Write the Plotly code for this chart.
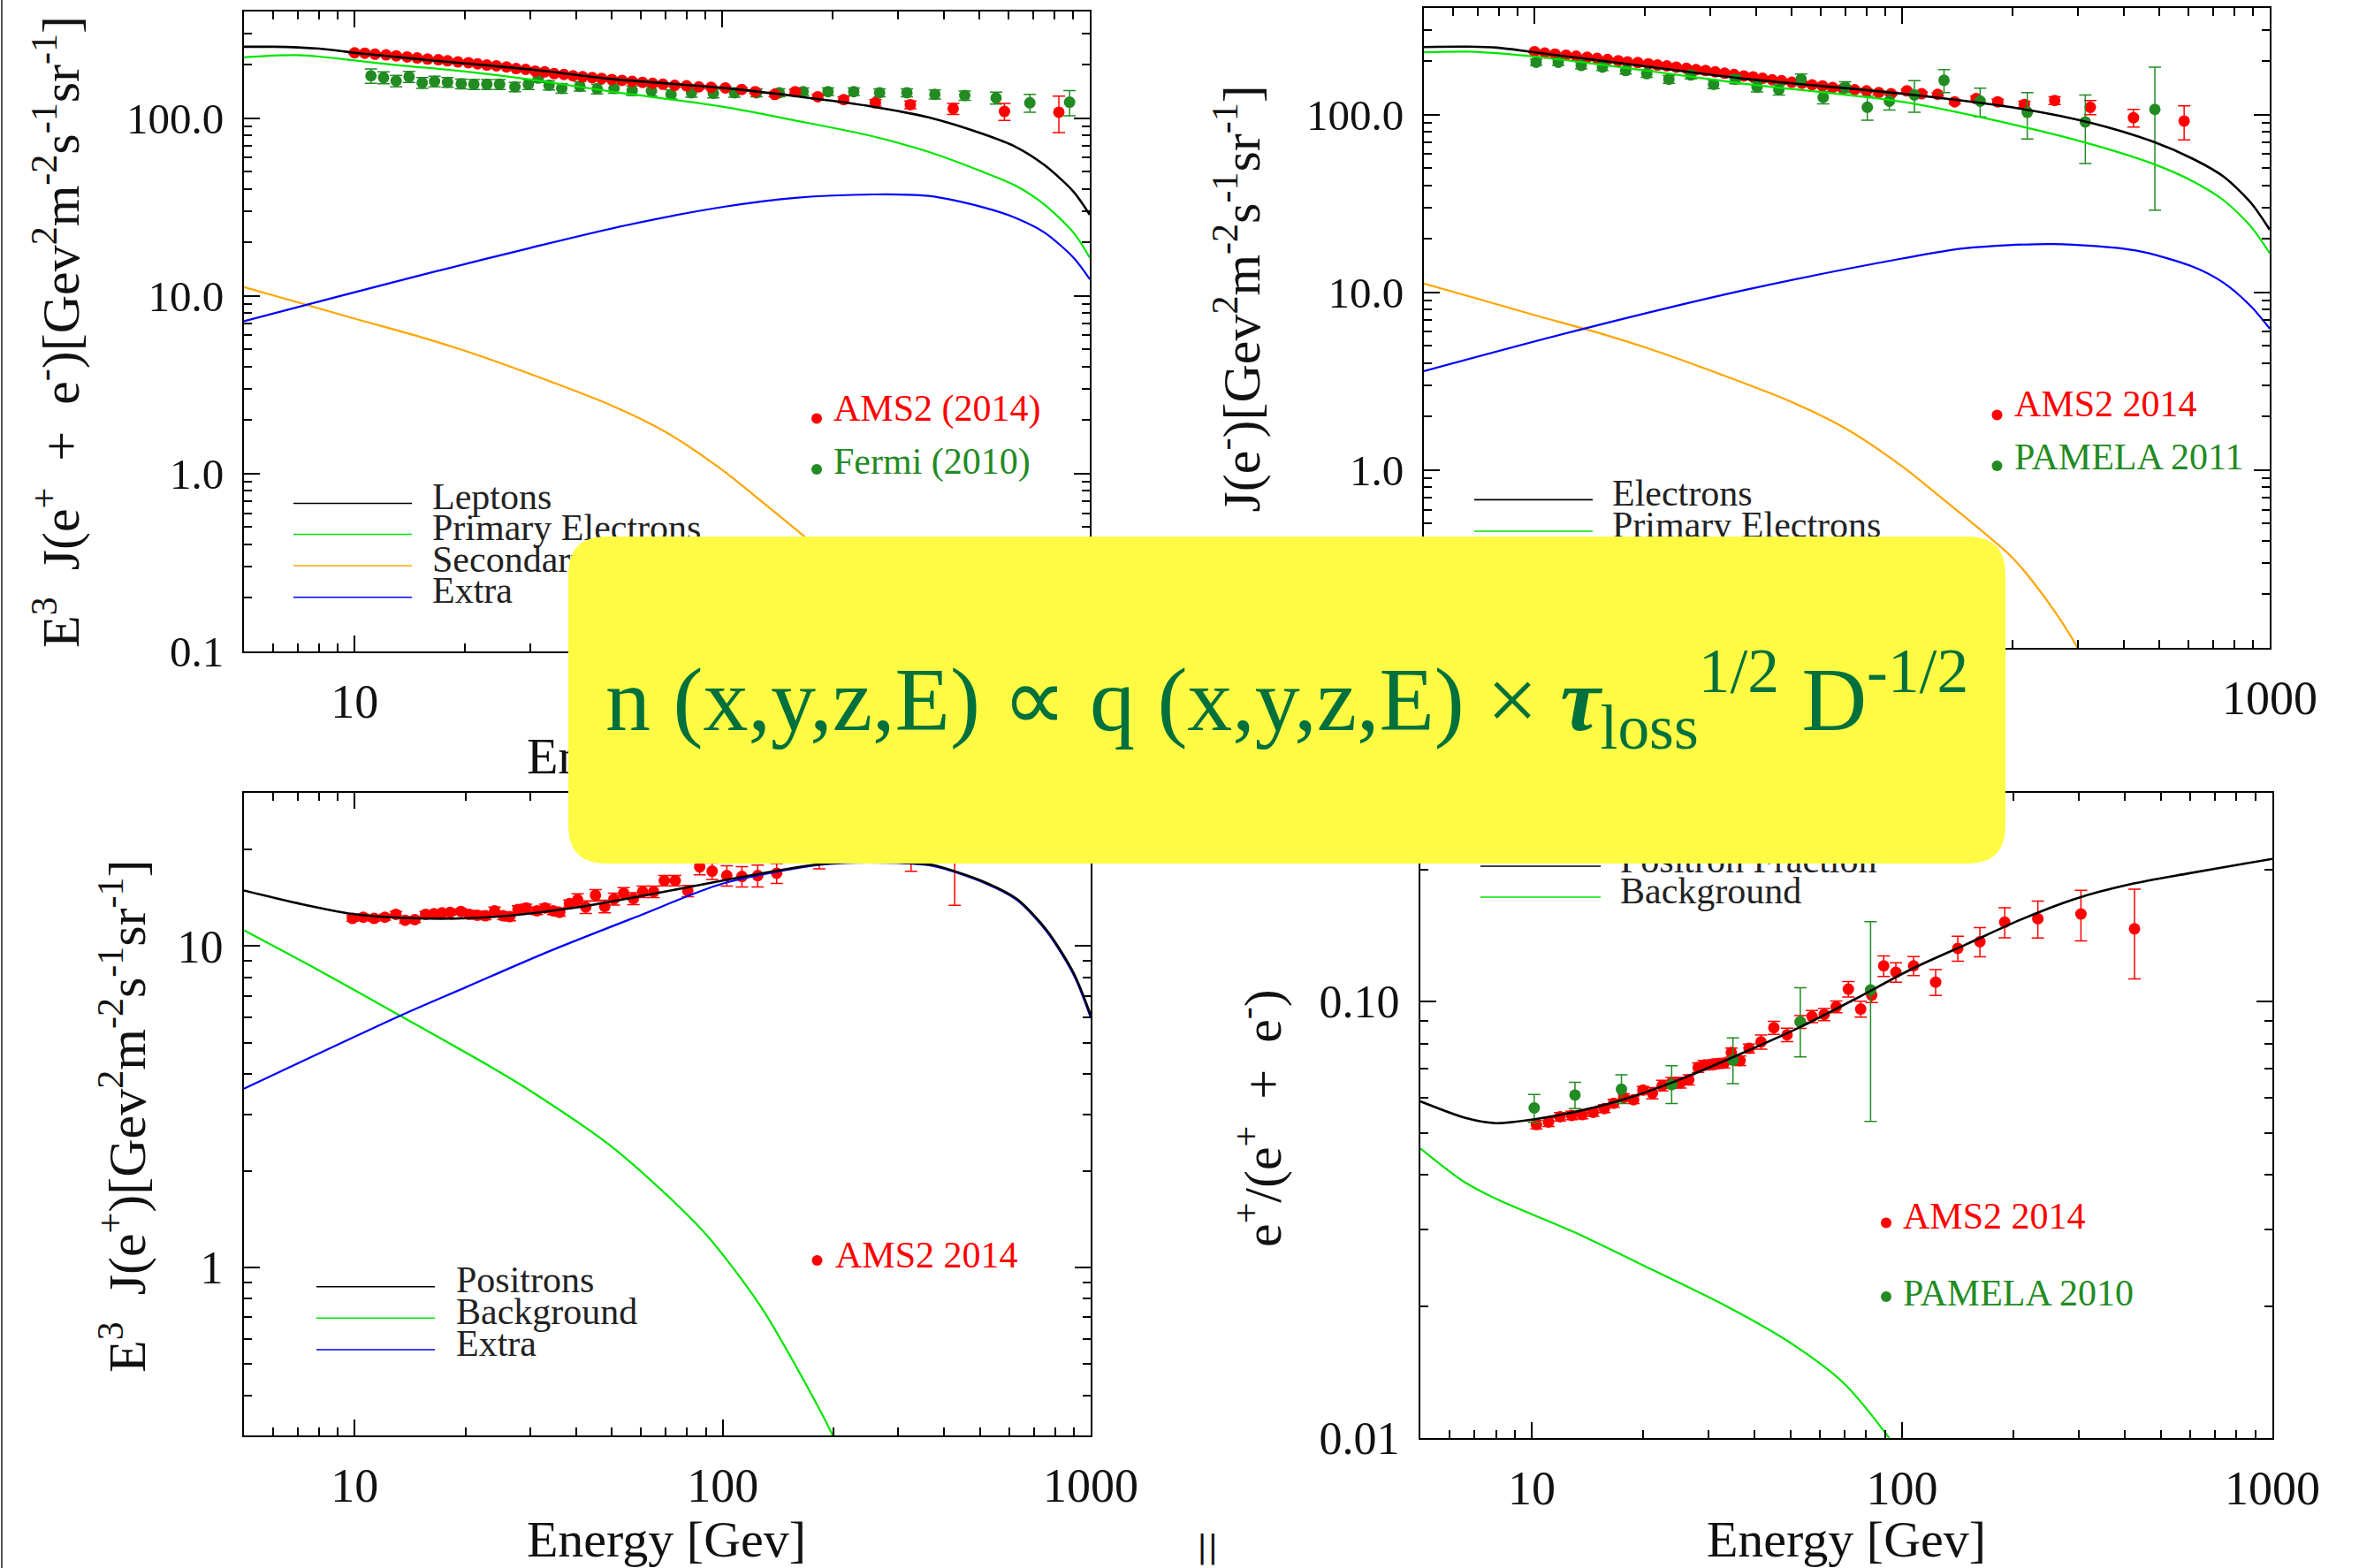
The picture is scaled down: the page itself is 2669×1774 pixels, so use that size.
import numpy as np
import plotly.graph_objects as go

W, H = 2669, 1774
SERIF = "Liberation Serif"

# ---------------- Panel A : E^3 J(e+ + e-) ----------------
a_lep_E = [5, 6, 7, 8, 9, 10, 13, 16.3, 20, 30, 50, 100, 158, 257, 364, 516, 628, 753, 903, 1000]
a_lep_v = [252, 252, 250, 246, 240, 233, 221, 211, 203, 188, 166, 148, 133, 116, 101, 81, 69, 54.4, 38.6, 28.6]
a_pri_E = [5, 6, 7, 8, 10, 13, 20, 30, 50, 100, 158, 257, 364, 516, 628, 753, 903, 1000]
a_pri_v = [220, 225, 226, 222, 211, 199, 183, 165, 141, 116, 97, 79, 64.6, 49.5, 41.7, 32.6, 22.7, 16.4]
sec_E = [5, 7, 10, 15, 20, 30, 50, 70, 100, 130, 168, 200, 250, 300, 350]
sec_v = [11.2, 9.2, 7.45, 5.9, 4.9, 3.64, 2.42, 1.72, 1.05, 0.68, 0.44, 0.32, 0.18, 0.1, 0.05]
a_ext_E = [5, 8.9, 16.3, 30, 55, 100, 158, 257, 364, 516, 628, 753, 903, 1000]
a_ext_v = [7.2, 9.84, 13.6, 18.6, 25, 31.6, 35.6, 37.2, 36.5, 31.4, 27.5, 22.7, 16.4, 12.4]

a_ams_E = [10.0, 10.66, 11.37, 12.18, 12.98, 13.9, 14.8, 15.8, 16.9, 17.9, 19.1, 20.4, 21.6, 22.9, 24.3,
           25.9, 27.5, 29.2, 31.0, 32.9, 34.9, 37.1, 39.3, 41.7, 44.3, 47.0, 50.1, 53.4, 56.9, 60.7,
           64.7, 69.0, 74.3, 80.0, 86.4, 93.3, 102, 113, 123, 139, 158, 182, 214, 261, 325, 425, 586, 824]
a_ams_v = [233, 232, 229, 227, 224, 221, 218, 215, 213, 210, 207, 205, 202, 199, 197,
           194, 190, 188, 184, 182, 178, 176, 173, 171, 169, 167, 165, 163, 161, 159,
           157, 155, 153, 152, 150, 149, 148, 145, 141, 136, 141, 132, 127, 122, 119, 113, 109, 108]
a_ams_err = [4, 4, 4, 4, 4, 4, 4, 4, 4, 4, 4, 4, 4, 4, 4, 4, 4, 4, 4, 4, 4, 4, 4, 3, 3,
             3, 3, 3, 3, 3, 3, 3, 3, 3, 3, 3, 3, 3, 3, 4, 4, 4, 5, 5, 6, 8, 12, 25]
a_fermi_E = [11.08, 11.99, 12.97, 14.07, 15.27, 16.5, 17.9, 19.5, 21.1, 22.9, 24.8, 27.3, 29.7, 31.6, 33.8,
             36.6, 41.0, 45.7, 50.8, 56.9, 64.2, 72.6, 82.5, 94.6, 108, 124, 143, 166, 194, 228,
             268, 318, 379, 457, 556, 687, 881]
a_fermi_v = [173, 169, 162, 171, 158, 161, 159, 156, 155, 155, 155, 150, 155, 168, 153,
             147, 151, 146, 147, 143, 142, 136, 139, 138, 139, 139, 139, 141, 141, 141,
             139, 139, 136, 134, 130, 122, 123]
a_fermi_err = [16, 13, 12, 12, 11, 11, 10, 10, 10, 10, 10, 9, 10, 9, 9, 9, 9, 9, 9, 9, 9, 8, 8, 8, 8,
               7, 7, 7, 7, 7, 7, 7, 8, 8, 10, 14, 20]

# ---------------- Panel B : E^3 J(e-) ----------------
b_ele_E = [5, 6.6, 7.9, 10, 20, 37.3, 100, 210, 328, 480, 620, 750, 891, 1000]
b_ele_v = [240, 241, 238, 224, 187, 159, 131, 108, 89.6, 70.6, 56.2, 44.7, 31.7, 22.5]
b_pri_E = [5, 6.6, 10, 20, 37.3, 100, 210, 328, 480, 620, 750, 891, 1000]
b_pri_v = [224, 226, 212, 177, 149, 118, 86, 68, 53, 42, 32.9, 23.3, 16.6]
b_ext_E = [5, 13.2, 37.3, 100, 148, 258, 432, 620, 750, 891, 1000]
b_ext_v = [3.6, 6.14, 10.3, 15.5, 17.7, 18.7, 17.2, 13.9, 11.3, 8.3, 6.25]

b_ams_E = [10.0, 10.66, 11.37, 12.18, 12.98, 13.9, 14.8, 15.8, 16.9, 17.9, 19.1, 20.4, 21.6, 22.9, 24.3,
           25.9, 27.5, 29.2, 31.0, 32.9, 34.9, 37.1, 39.3, 41.7, 44.3, 47.0, 50.1, 53.4, 56.9, 60.7,
           64.7, 69.0, 74.3, 80.0, 86.4, 93.3, 103, 113, 125, 139, 159, 182, 215, 260, 325, 426, 585]
b_ams_v = [226, 222, 219, 216, 213, 210, 207, 204, 201, 198, 196, 193, 190, 188, 185,
           182, 179, 177, 174, 171, 168, 165, 163, 160, 157, 155, 152, 150, 147, 145,
           142, 140, 138, 136, 133, 131, 136, 131, 130, 118, 123, 118, 114, 120, 110, 96, 92]
b_ams_err = [3, 3, 3, 3, 3, 3, 3, 3, 3, 3, 3, 3, 3, 3, 3, 3, 3, 3, 3, 3, 3, 3, 3, 3, 3,
             3, 3, 3, 3, 3, 3, 3, 3, 3, 3, 3, 3, 3, 3, 3, 4, 4, 5, 6, 10, 11, 20]
b_pam_E = [10.1, 11.6, 13.4, 15.3, 17.7, 20.2, 23.2, 26.6, 30.7, 35.2, 40.3, 46.2, 53.1, 61.0, 70.0,
           80.4, 92.3, 108, 130, 163, 219, 315, 487]
b_pam_v = [197, 197, 189, 185, 177, 170, 158, 167, 148, 158, 143, 138, 158, 125, 143,
           110, 119, 129, 156, 119, 103, 91, 107]
b_pam_err = [8, 8, 8, 8, 8, 8, 8, 8, 8, 9, 9, 9, 11, 10, 10, 17, 13, 26, 23, 22, 30, 38, 78]

# ---------------- Panel C : E^3 J(e+) ----------------
c_pos_E = [5, 7, 9.85, 14.8, 23.1, 38.4, 63.8, 106, 177, 250, 370, 427, 523, 631, 760, 901, 1000]
c_pos_v = [14.9, 13.6, 12.6, 12.2, 12.3, 13.1, 14.5, 16.2, 17.9, 18.3, 17.9, 17.1, 15.7, 14.0, 11.2, 8.2, 6.1]
c_bkg_E = [5, 8, 13.2, 23.1, 29.4, 50.3, 88.3, 127, 167, 199, 230]
c_bkg_v = [11.2, 8.4, 6.1, 4.25, 3.6, 2.36, 1.30, 0.755, 0.44, 0.30, 0.2]
c_ext_E = [5, 13.4, 20, 33.5, 60, 99, 183, 250, 370, 523, 631, 760, 901, 1000]
c_ext_v = [3.6, 6.1, 7.44, 9.6, 12.5, 15.6, 17.9, 18.2, 17.8, 15.6, 13.9, 11.1, 8.1, 6.0]
c_ams_E = [9.86, 10.55, 11.29, 12.08, 12.94, 13.71, 14.57, 15.59, 16.41, 17.26, 18.16, 19.44, 20.46, 21.52, 22.65,
           24.0, 25.33, 26.39, 27.77, 29.22, 31.27, 32.9, 34.62, 36.06, 38.33, 40.34, 42.45, 45.11, 47.8, 50.64,
           53.83, 57.2, 60.6, 64.9, 69.4, 74.3, 80.4, 86.6, 93.6, 102.6, 112.8, 124.5, 140.2, 183, 325, 427]
c_ams_v = [12.2, 12.3, 12.2, 12.3, 12.56, 12.04, 12.09, 12.56, 12.61, 12.69, 12.74, 12.82, 12.56, 12.48, 12.43,
           12.88, 12.43, 12.35, 13.01, 13.15, 12.88, 13.15, 12.88, 12.74, 13.57, 13.95, 13.23, 14.4, 13.29, 14.01,
           14.61, 14.07, 14.77, 14.77, 16.0, 16.0, 14.86, 17.66, 17.12, 16.58, 16.48, 16.58, 16.87, 19.2, 20.5, 19.0]
c_ams_err = [0.25] * 12 + [0.35] * 13 + [0.6] * 12 + [1.0, 1.0, 1.2, 1.2, 1.3, 1.2, 1.8, 3.4, 5.6]

# ---------------- Panel D : positron fraction ----------------
d_frac_E = [5, 6.65, 7.98, 10.2, 13.45, 18.95, 26.7, 37.7, 53.1, 74.9, 105.6, 149, 210, 296, 417, 589, 830, 1000]
d_frac_v = [0.059, 0.054, 0.0526, 0.0537, 0.0561, 0.0607, 0.0676, 0.0766, 0.0873, 0.1013, 0.1183, 0.135,
            0.154, 0.172, 0.1856, 0.196, 0.2062, 0.2118]
d_bkg_E = [5, 6.5, 8, 12.9, 20.9, 33.7, 49.5, 69.3, 92.3, 110]
d_bkg_v = [0.046, 0.0388, 0.0353, 0.0297, 0.0244, 0.0200, 0.0166, 0.0134, 0.0100, 0.0080]
d_ams_E = [10.29, 11.09, 11.92, 12.81, 13.68, 14.65, 15.7, 16.64, 17.7, 18.83, 19.96, 21.16, 22.5, 23.86, 25.2,
           26.54, 28.13, 29.12, 30.34, 31.73, 33.06, 34.57, 36.52, 38.6, 41.6, 45.05, 48.9, 53.1, 57.1, 61.6,
           66.4, 71.6, 77.3, 82.8, 89.2, 96.2, 107.4, 123.2, 141.4, 162.2, 189.3, 232.6, 304.1, 424.3]
d_ams_v = [0.0522, 0.0529, 0.0544, 0.0548, 0.055, 0.0557, 0.0568, 0.0584, 0.0602, 0.0595, 0.0626, 0.0616,
           0.0641, 0.0651, 0.0651, 0.0661, 0.0705, 0.0714, 0.0716, 0.072, 0.0722, 0.0763, 0.0731, 0.078,
           0.0807, 0.087, 0.0838, 0.0897, 0.0923, 0.0933, 0.0971, 0.1066, 0.096, 0.1033, 0.1205, 0.1165,
           0.1205, 0.1106, 0.1322, 0.1369, 0.1517, 0.1545, 0.1584, 0.1465]
d_ams_err = [0.0012] * 11 + [0.0018] * 13 + [0.003, 0.003, 0.003, 0.003, 0.003, 0.003, 0.003, 0.0043, 0.004, 0.004,
                                             0.0065, 0.006, 0.006, 0.0075, 0.0087, 0.0105, 0.012, 0.015, 0.021, 0.034]
d_pam_E = [10.15, 13.08, 17.46, 23.86, 34.93, 53.1, 82.2]
d_pam_v = [0.057, 0.061, 0.0629, 0.0644, 0.0733, 0.0897, 0.1061]
d_pam_up = [0.0042, 0.0042, 0.005, 0.0068, 0.0091, 0.0177, 0.046]
d_pam_dn = [0.0042, 0.0042, 0.0046, 0.0061, 0.0085, 0.0151, 0.053]

x_tickvals = [10, 100, 1000]
x_ticktext = ["10", "100", "1000"]

RED = "#ff0000"
DGREEN = "#228b22"
LIME = "#00e600"
ORANGE = "#ffa500"
BLUE = "#0000ff"
BLACK = "#000000"

fig = go.Figure()


def pts(E, v, err, color, ax, up=None, dn=None):
    ey = dict(type="data", array=err if up is None else up, color=color, thickness=1.5, width=7, visible=True)
    if dn is not None:
        ey["arrayminus"] = dn
        ey["symmetric"] = False
    fig.add_trace(go.Scatter(x=E, y=v, mode="markers", marker=dict(size=13, color=color),
                             error_y=ey, xaxis="x" + ax, yaxis="y" + ax,
                             showlegend=False, hoverinfo="skip"))


def curve(E, v, color, ax, w=2.2):
    fig.add_trace(go.Scatter(x=E, y=v, mode="lines",
                             line=dict(color=color, width=w, shape="spline", smoothing=0.8),
                             xaxis="x" + ax, yaxis="y" + ax, showlegend=False, hoverinfo="skip"))


# Panel A
pts(a_fermi_E, a_fermi_v, a_fermi_err, DGREEN, "")
pts(a_ams_E, a_ams_v, a_ams_err, RED, "")
curve(sec_E, sec_v, ORANGE, "")
curve(a_ext_E, a_ext_v, BLUE, "")
curve(a_pri_E, a_pri_v, LIME, "")
curve(a_lep_E, a_lep_v, BLACK, "", 2.6)
# Panel B
pts(b_ams_E, b_ams_v, b_ams_err, RED, "2")
pts(b_pam_E, b_pam_v, b_pam_err, DGREEN, "2")
curve(sec_E, sec_v, ORANGE, "2")
curve(b_ext_E, b_ext_v, BLUE, "2")
curve(b_pri_E, b_pri_v, LIME, "2")
curve(b_ele_E, b_ele_v, BLACK, "2", 2.6)
# Panel C
pts(c_ams_E, c_ams_v, c_ams_err, RED, "3")
curve(c_bkg_E, c_bkg_v, LIME, "3")
curve(c_ext_E, c_ext_v, BLUE, "3")
curve(c_pos_E, c_pos_v, BLACK, "3", 2.6)
# Panel D
pts(d_ams_E, d_ams_v, d_ams_err, RED, "4")
pts(d_pam_E, d_pam_v, None, DGREEN, "4", up=d_pam_up, dn=d_pam_dn)
curve(d_bkg_E, d_bkg_v, LIME, "4")
curve(d_frac_E, d_frac_v, BLACK, "4", 2.6)


# ---------------- overlay (pixel) layer for legends / labels ----------------
def ov_text(x, y, s, size=42, color="#222222", pos="middle right"):
    fig.add_trace(go.Scatter(x=[x], y=[y], mode="text", text=[s], textposition=pos,
                             textfont=dict(family=SERIF, size=size, color=color),
                             xaxis="x5", yaxis="y5", showlegend=False, hoverinfo="skip",
                             cliponaxis=False))


def ov_line(x0, x1, y, color):
    fig.add_trace(go.Scatter(x=[x0, x1], y=[y, y], mode="lines", line=dict(color=color, width=1.6),
                             xaxis="x5", yaxis="y5", showlegend=False, hoverinfo="skip"))


def ov_dot(x, y, color):
    fig.add_trace(go.Scatter(x=[x], y=[y], mode="markers", marker=dict(size=12, color=color),
                             xaxis="x5", yaxis="y5", showlegend=False, hoverinfo="skip"))


legends = [
    (332, 466, 489, [(569.5, BLACK, "Leptons"), (604.5, LIME, "Primary Electrons"),
                     (640, ORANGE, "Secondary Electrons"), (675.7, BLUE, "Extra")]),
    (1668, 1802, 1824, [(565.4, BLACK, "Electrons"), (601, LIME, "Primary Electrons"),
                        (637, ORANGE, "Secondary Electrons"), (673, BLUE, "Extra")]),
    (358, 492, 516, [(1455.8, BLACK, "Positrons"), (1491.2, LIME, "Background"), (1527, BLUE, "Extra")]),
    (1675, 1811, 1833, [(980, BLACK, "Positron Fraction"), (1015, LIME, "Background")]),
]
for x0, x1, xt, rows in legends:
    for y, c, s in rows:
        ov_line(x0, x1, y, c)
        ov_text(xt, y - 4, s)

labels = [
    (924, 473.6, 943, 465, RED, "AMS2 (2014)"),
    (924, 531, 943, 525, DGREEN, "Fermi (2010)"),
    (2259.5, 469.6, 2279, 460, RED, "AMS2 2014"),
    (2259.5, 527, 2279, 520, DGREEN, "PAMELA 2011"),
    (924.5, 1426, 945, 1423, RED, "AMS2 2014"),
    (2134, 1383.4, 2153, 1379, RED, "AMS2 2014"),
    (2134, 1467, 2153, 1466, DGREEN, "PAMELA 2010"),
]
for dx, dy, tx, ty, c, s in labels:
    ov_dot(dx, dy, c)
    ov_text(tx, ty, s, color=c)

for cx, cy in [(754, 860), (2089, 856), (754, 1746), (2089, 1746)]:
    ov_text(cx, cy, "Energy [Gev]", size=58, color="#111111", pos="middle center")


# ---------------- axes ----------------
def xminor():
    return [m * 10 ** k for k in range(0, 3) for m in range(2, 10) if 5 < m * 10 ** k < 1000]


def yminor(lo, hi):
    return [m * 10.0 ** k for k in range(-3, 3) for m in range(2, 10) if lo * 1.01 < m * 10.0 ** k < hi * 0.99]


def axis_common(tickfont_size, standoff):
    return dict(type="log", showline=True, linecolor=BLACK, linewidth=2, mirror="ticks",
                ticks="inside", ticklen=18, tickwidth=2, tickcolor=BLACK, showgrid=False, zeroline=False,
                tickfont=dict(family=SERIF, size=tickfont_size, color="#111111"),
                ticklabelstandoff=standoff, automargin=False)


def xax(d0, d1, anchor):
    a = axis_common(54, 8)
    a.update(domain=[d0 / W, d1 / W], range=[np.log10(5), 3], anchor=anchor,
             tickmode="array", tickvals=x_tickvals, ticktext=x_ticktext,
             minor=dict(ticks="inside", ticklen=9, tickwidth=1.5, tickcolor=BLACK, tickmode="array",
                        tickvals=xminor(), showgrid=False))
    return a


def yax(top, bot, lo, hi, tv, tt, size, anchor):
    a = axis_common(size, 11)
    a.update(domain=[1 - bot / H, 1 - top / H], range=[np.log10(lo), np.log10(hi)], anchor=anchor,
             tickmode="array", tickvals=tv, ticktext=tt,
             minor=dict(ticks="inside", ticklen=9, tickwidth=1.5, tickcolor=BLACK, tickmode="array",
                        tickvals=yminor(lo, hi), showgrid=False))
    return a


top_tv = [0.1, 1, 10, 100]
top_tt = ["0.1", "1.0", "10.0", "100.0"]

layout = dict(
    width=W, height=H, autosize=False, margin=dict(l=0, r=0, t=0, b=0, pad=0, autoexpand=False),
    paper_bgcolor="white", plot_bgcolor="rgba(0,0,0,0)", showlegend=False,
    xaxis=xax(276, 1233, "y"),
    yaxis=yax(13, 737, 0.1, 398, top_tv, top_tt, 49, "x"),
    xaxis2=xax(1611, 2568, "y2"),
    yaxis2=yax(9, 733, 0.1, 398, top_tv, top_tt, 49, "x2"),
    xaxis3=xax(276, 1234, "y3"),
    yaxis3=yax(897, 1624, 0.3, 30, [1, 10], ["1", "10"], 52, "x3"),
    xaxis4=xax(1607, 2571, "y4"),
    yaxis4=yax(897, 1627, 0.01, 0.3, [0.01, 0.1], ["0.01", "0.10"], 52, "x4"),
    xaxis5=dict(domain=[0, 1], range=[0, W], visible=False, anchor="y5", fixedrange=True, automargin=False),
    yaxis5=dict(domain=[0, 1], range=[H, 0], visible=False, anchor="x5", fixedrange=True, automargin=False),
)
fig.update_layout(**layout)

# y-axis titles (rotated)
ytitle_font = dict(family=SERIF, size=60, color="#111111")
fig.add_annotation(text="E<sup>3</sup>  J(e<sup>+</sup>  +  e<sup>-</sup>)[Gev<sup>2</sup>m<sup>-2</sup>s<sup>-1</sup>sr<sup>-1</sup>]",
                   x=64 / W, y=1 - 376 / H, xref="paper", yref="paper", textangle=-90, showarrow=False,
                   xanchor="center", yanchor="middle", font=ytitle_font)
fig.add_annotation(text="J(e<sup>-</sup>)[Gev<sup>2</sup>m<sup>-2</sup>s<sup>-1</sup>sr<sup>-1</sup>]",
                   x=1400 / W, y=1 - 582 / H, xref="paper", yref="paper", textangle=-90, showarrow=False,
                   xanchor="center", yanchor="bottom", font=ytitle_font)
fig.add_annotation(text="E<sup>3</sup>  J(e<sup>+</sup>)[Gev<sup>2</sup>m<sup>-2</sup>s<sup>-1</sup>sr<sup>-1</sup>]",
                   x=139 / W, y=1 - 1263 / H, xref="paper", yref="paper", textangle=-90, showarrow=False,
                   xanchor="center", yanchor="middle", font=ytitle_font)
fig.add_annotation(text="e<sup>+</sup>/(e<sup>+</sup>  +  e<sup>-</sup>)",
                   x=1424 / W, y=1 - 1265 / H, xref="paper", yref="paper", textangle=-90, showarrow=False,
                   xanchor="center", yanchor="middle", font=ytitle_font)


# yellow rounded box
def P(x, y):
    return f"{x / W:.6f},{1 - y / H:.6f}"


bx0, by0, bx1, by1, r = 643, 607, 2269, 977, 43
path = (f"M {P(bx0 + r, by0)} L {P(bx1 - r, by0)} Q {P(bx1, by0)} {P(bx1, by0 + r)} "
        f"L {P(bx1, by1 - r)} Q {P(bx1, by1)} {P(bx1 - r, by1)} "
        f"L {P(bx0 + r, by1)} Q {P(bx0, by1)} {P(bx0, by1 - r)} "
        f"L {P(bx0, by0 + r)} Q {P(bx0, by0)} {P(bx0 + r, by0)} Z")
fig.add_shape(type="path", path=path, xref="paper", yref="paper", layer="above",
              fillcolor="#fffb44", line=dict(width=0))
fig.add_shape(type="line", x0=2 / W, x1=2 / W, y0=0, y1=1, xref="paper", yref="paper", layer="above",
              line=dict(color="#555555", width=2))

fig.add_annotation(
    text="n (x,y,z,E) ∝ q (x,y,z,E) × <b><i>τ</i></b><sub>loss</sub><sup>1/2</sup> D<sup>-1/2</sup>",
    x=1456 / W, y=1 - 790 / H, xref="paper", yref="paper", showarrow=False,
    xanchor="center", yanchor="middle", font=dict(family=SERIF, size=102, color="#00703c"))
fig.add_annotation(text="||", x=1366 / W, y=1 - 1750 / H, xref="paper", yref="paper", showarrow=False,
                   xanchor="center", yanchor="middle",
                   font=dict(family="DejaVu Sans", size=36, color="#111111"))

fig.write_html("out.html")
